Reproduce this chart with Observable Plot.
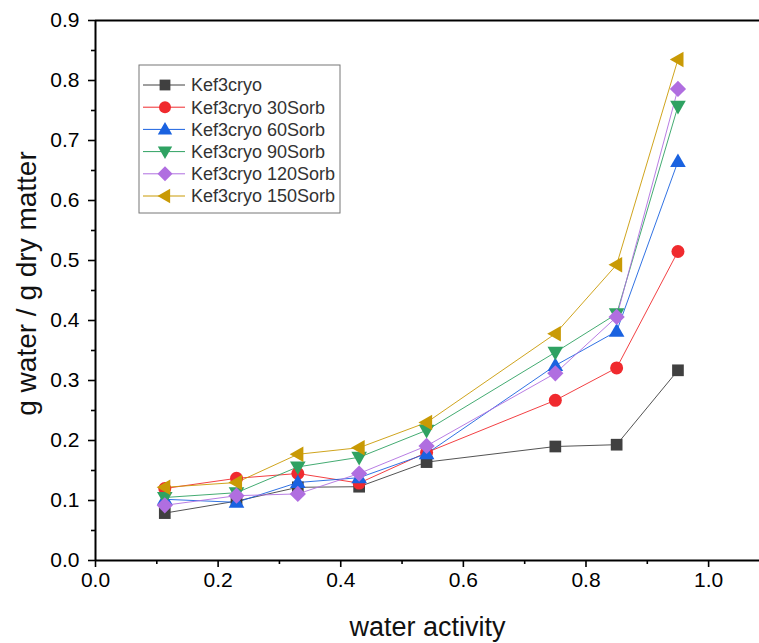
<!DOCTYPE html>
<html><head><meta charset="utf-8">
<script src="https://cdn.jsdelivr.net/npm/d3@7"></script>
<script src="https://cdn.jsdelivr.net/npm/@observablehq/plot@0.6"></script>
<style>body{margin:0;background:#fff}</style>
</head><body><div id="chart"></div>
<script>
// ---- data ----
const waterActivity = [0.113, 0.23, 0.33, 0.43, 0.54, 0.75, 0.85, 0.95];
const seriesNames = ["Kef3cryo", "Kef3cryo 30Sorb", "Kef3cryo 60Sorb", "Kef3cryo 90Sorb", "Kef3cryo 120Sorb", "Kef3cryo 150Sorb"];
const kef3cryo      = [0.079, 0.099, 0.122, 0.123, 0.164, 0.190, 0.193, 0.317];
const kef3cryo30    = [0.120, 0.137, 0.145, 0.129, 0.180, 0.267, 0.321, 0.515];
const kef3cryo60    = [0.102, 0.097, 0.130, 0.138, 0.178, 0.325, 0.382, 0.665];
const kef3cryo90    = [0.105, 0.113, 0.156, 0.172, 0.217, 0.347, 0.411, 0.757];
const kef3cryo120   = [0.092, 0.108, 0.111, 0.145, 0.191, 0.312, 0.406, 0.786];
const kef3cryo150   = [0.122, 0.130, 0.177, 0.188, 0.230, 0.378, 0.493, 0.835];
const seriesValues = [kef3cryo, kef3cryo30, kef3cryo60, kef3cryo90, kef3cryo120, kef3cryo150];
const xTicks = [0, 0.2, 0.4, 0.6, 0.8, 1.0];
const xMinorTicks = [0.1, 0.3, 0.5, 0.7, 0.9];
const yTicks = [0, 0.1, 0.2, 0.3, 0.4, 0.5, 0.6, 0.7, 0.8, 0.9];
const yMinorTicks = [0.05, 0.15, 0.25, 0.35, 0.45, 0.55, 0.65, 0.75, 0.85];
const xLabel = "water activity";
const yLabel = "g water / g dry matter";

// ---- styles ----
const colors = ["#404040", "#f02a2e", "#1a62e0", "#2fa262", "#b06ee0", "#c99a05"];
const R = (s) => Math.sqrt(s / Math.PI);
const symSquare = {draw(c, s) { const h = R(s) * 0.9; c.rect(-h, -h, 2 * h, 2 * h); }};
const symCircle = {draw(c, s) { const r = R(s); c.moveTo(r, 0); c.arc(0, 0, r, 0, 2 * Math.PI); }};
const symUp = {draw(c, s) { const r = R(s); c.moveTo(0, -1.25 * r); c.lineTo(1.2 * r, 0.85 * r); c.lineTo(-1.2 * r, 0.85 * r); c.closePath(); }};
const symDown = {draw(c, s) { const r = R(s); c.moveTo(0, 1.25 * r); c.lineTo(1.2 * r, -0.85 * r); c.lineTo(-1.2 * r, -0.85 * r); c.closePath(); }};
const symDiamond = {draw(c, s) { const r = R(s) * 1.25; c.moveTo(0, -r); c.lineTo(r, 0); c.lineTo(0, r); c.lineTo(-r, 0); c.closePath(); }};
const symLeft = {draw(c, s) { const r = R(s); c.moveTo(-1.25 * r, 0); c.lineTo(0.85 * r, -1.2 * r); c.lineTo(0.85 * r, 1.2 * r); c.closePath(); }};
const symbols = [symSquare, symCircle, symUp, symDown, symDiamond, symLeft];

const tables = seriesValues.map((vals, i) => vals.map((v, j) => ({x: waterActivity[j], y: v, series: seriesNames[i]})));

const font = "Liberation Sans, Arial, sans-serif";
const marks = [];
tables.forEach((t, i) => {
  marks.push(Plot.line(t, {x: "x", y: "y", stroke: colors[i], strokeWidth: 0.9}));
});
tables.forEach((t, i) => {
  marks.push(Plot.dot(t, {x: "x", y: "y", symbol: symbols[i], r: 6.5, fill: colors[i], stroke: "none"}));
});

const chart = Plot.plot({
  width: 759, height: 643,
  marginTop: 20, marginBottom: 83, marginLeft: 95, marginRight: 0,
  style: {background: "white", fontFamily: font, color: "black"},
  x: {domain: [0, 1.083]},
  y: {domain: [0, 0.9]},
  marks: [
    Plot.axisX({ticks: xTicks, tickFormat: ".1f", tickSize: 7, tickPadding: 5, fontSize: 21, stroke: "black", strokeWidth: 1.6, label: null}),
    Plot.axisX({ticks: xMinorTicks, tickFormat: () => "", tickSize: 4, stroke: "black", strokeWidth: 1.6, label: null}),
    Plot.axisY({ticks: yTicks, tickFormat: ".1f", tickSize: 7, tickPadding: 9, fontSize: 21, stroke: "black", strokeWidth: 1.6, label: null}),
    Plot.axisY({ticks: yMinorTicks, tickFormat: () => "", tickSize: 4, stroke: "black", strokeWidth: 1.6, label: null}),
    Plot.ruleY([0], {stroke: "black", strokeWidth: 2}),
    Plot.ruleY([0.9], {stroke: "black", strokeWidth: 2}),
    Plot.ruleX([0], {stroke: "black", strokeWidth: 2}),
    ...marks,
    Plot.text([xLabel], {frameAnchor: "bottom", dy: 75, lineAnchor: "bottom", textAnchor: "middle", fontSize: 27, fill: "#111", text: d => d}),
    Plot.text([yLabel], {frameAnchor: "left", dx: -68, dy: -7, rotate: -90, lineAnchor: "middle", textAnchor: "middle", fontSize: 28, fill: "#111", text: d => d})
  ]
});

// ---- legend ----
const svg = d3.select(chart);
const lg = svg.append("g").attr("transform", "translate(139,65)");
lg.append("rect").attr("x", 0).attr("y", 0).attr("width", 201).attr("height", 148)
  .attr("fill", "white").attr("stroke", "#777").attr("stroke-width", 1);
seriesNames.forEach((name, i) => {
  const yy = 20 + i * 22.2;
  lg.append("line").attr("x1", 4).attr("x2", 46).attr("y1", yy).attr("y2", yy)
    .attr("stroke", colors[i]).attr("stroke-width", 1);
  lg.append("path").attr("transform", `translate(26,${yy})`)
    .attr("d", d3.symbol().type(symbols[i]).size(Math.PI * 6 * 6)()).attr("fill", colors[i]);
  lg.append("text").attr("x", 52).attr("y", yy).attr("dy", "0.35em").attr("text-anchor", "start")
    .attr("font-family", font).attr("font-size", 18).attr("fill", "#333").text(name);
});

document.getElementById("chart").appendChild(chart);
</script></body></html>
